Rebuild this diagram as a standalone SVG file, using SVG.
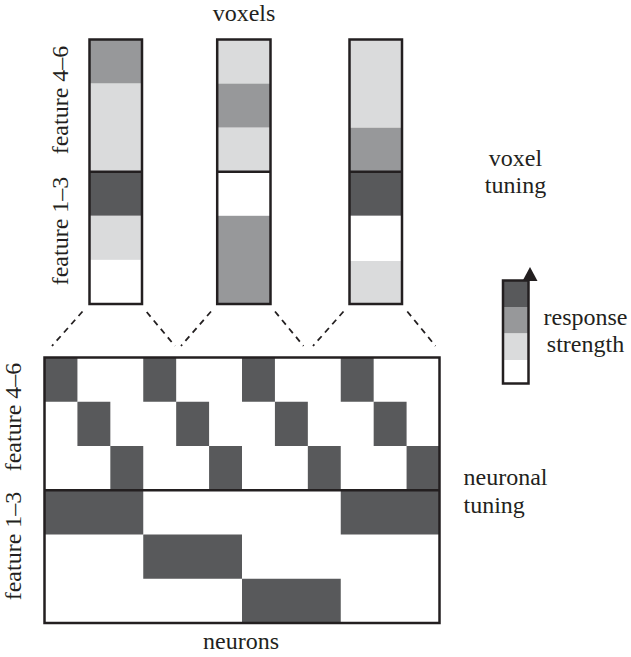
<svg xmlns="http://www.w3.org/2000/svg" width="631" height="657" viewBox="0 0 631 657">
<style>
text{font-family:'Liberation Serif','Times New Roman',Tinos,'DejaVu Serif',serif;font-size:24px;fill:#231f20}
.m{text-anchor:middle}
.d{fill:#58595b}
.g{fill:#97989a}
.l{fill:#dadbdc}
.w{fill:#ffffff}
.b{fill:none;stroke:#231f20;stroke-width:2.5}
.dash{fill:none;stroke:#231f20;stroke-width:1.8;stroke-dasharray:6 5}
</style>
<rect width="631" height="657" fill="#ffffff"/>

<g id="label-voxels"><text class="m" x="244" y="20.5" font-family="Liberation Serif, serif">voxels</text></g>
<g id="label-top-feature46"><text class="m" transform="translate(68,100) rotate(-90)" font-family="Liberation Serif, serif">feature 4–6</text></g>
<g id="label-top-feature13"><text class="m" transform="translate(68,231) rotate(-90)" font-family="Liberation Serif, serif">feature 1–3</text></g>

<g id="voxel1">
<rect class="g" x="89.5" y="39.5" width="52.5" height="44.1"/>
<rect class="l" x="89.5" y="83.6" width="52.5" height="88.15"/>
<rect class="d" x="89.5" y="171.75" width="52.5" height="44.05"/>
<rect class="l" x="89.5" y="215.8" width="52.5" height="44.1"/>
<rect class="w" x="89.5" y="259.9" width="52.5" height="44.1"/>
<rect class="b" x="89.5" y="39.5" width="52.5" height="264.5"/>
<line class="b" x1="89.5" y1="171.75" x2="142" y2="171.75"/>
</g>
<g id="voxel2">
<rect class="l" x="217.2" y="39.5" width="53.3" height="44.1"/>
<rect class="g" x="217.2" y="83.6" width="53.3" height="44.1"/>
<rect class="l" x="217.2" y="127.7" width="53.3" height="44.05"/>
<rect class="w" x="217.2" y="171.75" width="53.3" height="44.05"/>
<rect class="g" x="217.2" y="215.8" width="53.3" height="88.2"/>
<rect class="b" x="217.2" y="39.5" width="53.3" height="264.5"/>
<line class="b" x1="217.2" y1="171.75" x2="270.5" y2="171.75"/>
</g>
<g id="voxel3">
<rect class="l" x="349.5" y="39.5" width="52.5" height="88.2"/>
<rect class="g" x="349.5" y="127.7" width="52.5" height="44.05"/>
<rect class="d" x="349.5" y="171.75" width="52.5" height="44.05"/>
<rect class="w" x="349.5" y="215.8" width="52.5" height="45.2"/>
<rect class="l" x="349.5" y="261" width="52.5" height="43"/>
<rect class="b" x="349.5" y="39.5" width="52.5" height="264.5"/>
<line class="b" x1="349.5" y1="171.75" x2="402" y2="171.75"/>
</g>

<g id="connectors">
<line class="dash" x1="82.5" y1="311.5" x2="52" y2="346"/>
<line class="dash" x1="146.7" y1="312" x2="175" y2="346"/>
<line class="dash" x1="211" y1="311.5" x2="181" y2="346"/>
<line class="dash" x1="275" y1="311.5" x2="303.5" y2="346"/>
<line class="dash" x1="343.5" y1="311.5" x2="313" y2="346"/>
<line class="dash" x1="407.3" y1="311.5" x2="435.5" y2="346"/>
</g>

<g id="neuron-grid">
<rect class="w" x="44.5" y="357.5" width="395" height="265.5"/>
<rect class="d" x="44.5" y="357.5" width="32.92" height="44.25"/>
<rect class="d" x="143.25" y="357.5" width="32.92" height="44.25"/>
<rect class="d" x="242" y="357.5" width="32.92" height="44.25"/>
<rect class="d" x="340.75" y="357.5" width="32.92" height="44.25"/>
<rect class="d" x="77.42" y="401.75" width="32.92" height="44.25"/>
<rect class="d" x="176.17" y="401.75" width="32.92" height="44.25"/>
<rect class="d" x="274.92" y="401.75" width="32.92" height="44.25"/>
<rect class="d" x="373.67" y="401.75" width="32.92" height="44.25"/>
<rect class="d" x="110.33" y="446" width="32.92" height="44.25"/>
<rect class="d" x="209.08" y="446" width="32.92" height="44.25"/>
<rect class="d" x="307.83" y="446" width="32.92" height="44.25"/>
<rect class="d" x="406.58" y="446" width="32.92" height="44.25"/>
<rect class="d" x="44.5" y="490.25" width="98.75" height="44.25"/>
<rect class="d" x="340.75" y="490.25" width="98.75" height="44.25"/>
<rect class="d" x="143.25" y="534.5" width="98.75" height="44.25"/>
<rect class="d" x="242" y="578.75" width="98.75" height="44.25"/>
<rect class="b" x="44.5" y="357.5" width="395" height="265.5"/>
<line class="b" x1="44.5" y1="490.25" x2="439.5" y2="490.25"/>
</g>

<g id="label-bottom-feature46"><text class="m" transform="translate(21,417) rotate(-90)" font-family="Liberation Serif, serif">feature 4–6</text></g>
<g id="label-bottom-feature13"><text class="m" transform="translate(21,546) rotate(-90)" font-family="Liberation Serif, serif">feature 1–3</text></g>
<g id="label-neurons"><text class="m" x="241" y="649" font-family="Liberation Serif, serif">neurons</text></g>

<g id="label-voxel-tuning">
<text class="m" x="515.5" y="166" font-family="Liberation Serif, serif">voxel</text>
<text class="m" x="515.5" y="193" font-family="Liberation Serif, serif">tuning</text>
</g>
<g id="label-neuronal-tuning">
<text x="463.5" y="485" font-family="Liberation Serif, serif">neuronal</text>
<text x="463.5" y="512.5" font-family="Liberation Serif, serif">tuning</text>
</g>

<g id="legend">
<rect class="d" x="503" y="280.5" width="25.5" height="26.5"/>
<rect class="g" x="503" y="307" width="25.5" height="26.5"/>
<rect class="l" x="503" y="333.5" width="25.5" height="26.5"/>
<rect class="w" x="503" y="360" width="25.5" height="23.5"/>
<rect class="b" x="503" y="280.5" width="25.5" height="103"/>
<polygon points="522.5,281 530,267 537.5,281" fill="#231f20"/>
</g>
<g id="label-response-strength">
<text class="m" x="585.5" y="325" font-family="Liberation Serif, serif">response</text>
<text class="m" x="585.5" y="351.5" font-family="Liberation Serif, serif">strength</text>
</g>
</svg>
